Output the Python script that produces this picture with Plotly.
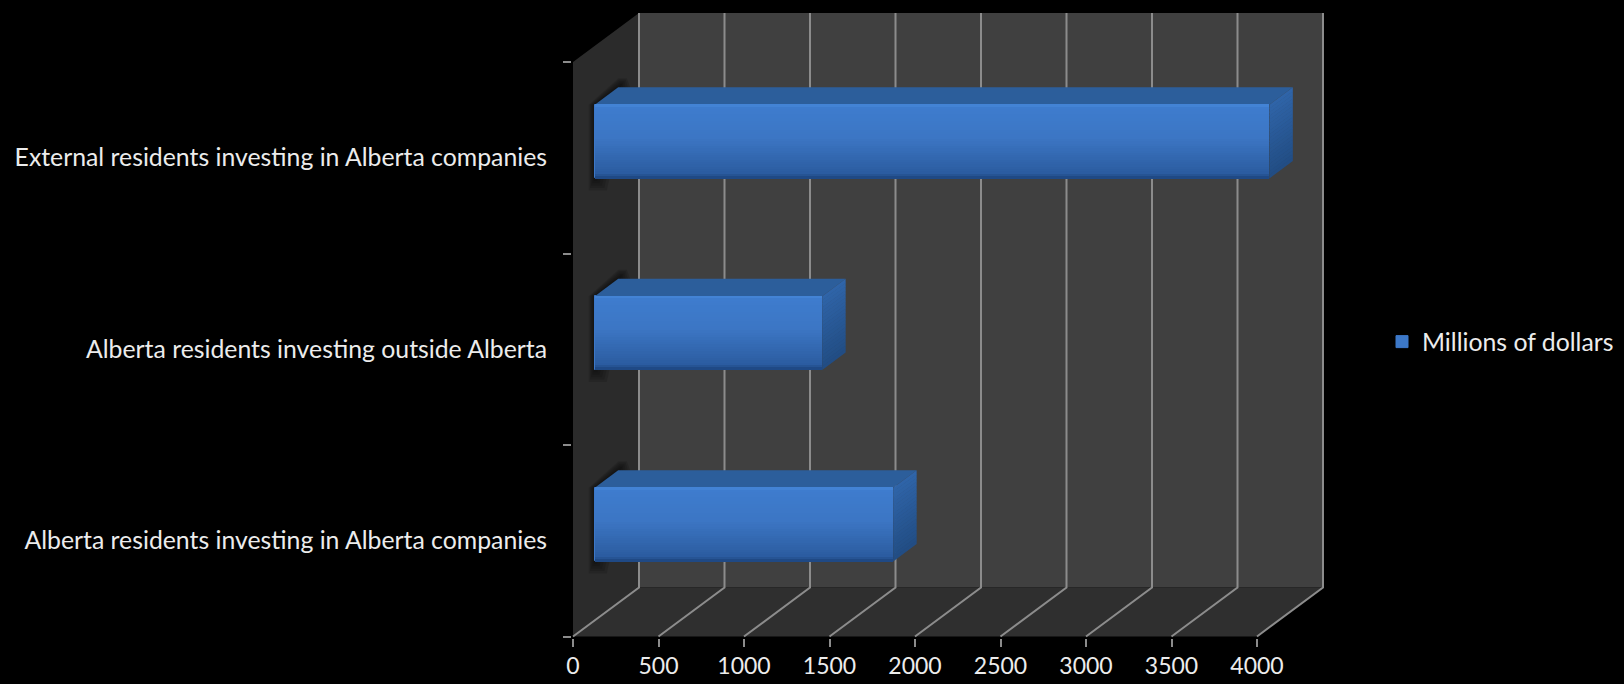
import plotly.graph_objects as go

categories = ["Alberta residents investing in Alberta companies",
              "Alberta residents investing outside Alberta",
              "External residents investing in Alberta companies"]
values = [1745, 1330, 3945]
series_name = "Millions of dollars"
x_ticks = [0, 500, 1000, 1500, 2000, 2500, 3000, 3500, 4000]
cat_pos = [0.5, 1.5, 2.5]
cat_bounds = [0, 1, 2, 3]

W, H = 1624, 684
X0, X1 = 573, 1257        # front plane, px
Y0, Y1 = 636.5, 62
PX_X = (X1 - X0) / 4000
PX_Y = (Y0 - Y1) / 3
DX, DY = 66, 49           # depth offset, px
D_FRONT, D_BACK = 0.33, 0.685
BAR_H = 0.385
FONT = "Lato"
FS = 24.8
FS_TICK = 23
TXT = "#ececec"
GRID = "#8c8c8c"


def pr(v, p, d=0.0):
    return v + d * DX / PX_X, p + d * DY / PX_Y


def poly(pts, color, z=0):
    xs, ys = zip(*[pr(*q) for q in pts])
    return go.Scatter(x=list(xs) + [xs[0]], y=list(ys) + [ys[0]], mode="lines", fill="toself",
                      fillcolor=color, line=dict(width=0), hoverinfo="skip", showlegend=False, zorder=z)


def mix(a, b, t):
    return "rgb(%d,%d,%d)" % tuple(round(a[i] + (b[i] - a[i]) * t) for i in range(3))


fig = go.Figure()
# walls and floor
fig.add_trace(poly([(0, 0, 1), (4000, 0, 1), (4000, 3, 1), (0, 3, 1)], "#404040"))
fig.add_trace(poly([(0, 0, 0), (0, 3, 0), (0, 3, 1), (0, 0, 1)], "#2b2b2b"))
fig.add_trace(poly([(0, 0, 0), (4000, 0, 0), (4000, 0, 1), (0, 0, 1)], "#2f2f2f"))
# gridlines
for t in x_ticks:
    a = pr(t, 3, 1); b = pr(t, 0, 1); c = pr(t, 0, 0)
    fig.add_trace(go.Scatter(x=[a[0], b[0], c[0]], y=[a[1], b[1], c[1]], mode="lines",
                             line=dict(color=GRID, width=2), hoverinfo="skip", showlegend=False, zorder=0))

# soft shadows
for p in cat_pos:
    for s in (1.0, 0.8, 0.6, 0.4, 0.2):
        sx = 12 * s / PX_X
        sy = 12 * s / PX_Y
        t, b = p + BAR_H / 2, p - BAR_H / 2
        fig.add_trace(poly([(-sx * 0.5, b - sy, D_FRONT), (sx * 1.0, b - sy, D_FRONT),
                            (sx * 1.0, t, D_BACK), (sx * 0.5, t + sy * 0.6, D_BACK + 0.04),
                            (-sx * 0.2, t + sy * 0.6, D_BACK + 0.04), (-sx * 0.5, t, D_FRONT)],
                           "rgba(0,0,0,0.12)"))

# main bars (front face base colour, carries the legend)
off_x = pr(0, 0, D_FRONT)[0]
off_y = pr(0, 0, D_FRONT)[1]
fig.add_trace(go.Bar(y=[p + off_y for p in cat_pos], x=values, base=off_x, width=BAR_H,
                     orientation="h", name=series_name, showlegend=True, zorder=1,
                     marker=dict(color="#3c78c8", line=dict(color="#3c78c8", width=1)),
                     hoverinfo="skip"))

# top and side faces
N = 20
for p, v in zip(cat_pos, values):
    t, b = p + BAR_H / 2, p - BAR_H / 2
    fig.add_trace(poly([(0, t, D_FRONT), (v, t, D_FRONT), (v, t, D_BACK), (0, t, D_BACK)], "#2c5e9b", 1))
    for i in range(N):
        u0, u1 = i / N, (i + 1.15) / N
        y0, y1 = t - (t - b) * u0, max(b, t - (t - b) * u1)
        fig.add_trace(poly([(v, y0, D_FRONT), (v, y0, D_BACK), (v, y1, D_BACK), (v, y1, D_FRONT)],
                           mix((47, 100, 168), (33, 76, 130), u0), 1))

# gradient bands on the front face
stops = [(0.0, (72, 138, 220)), (0.03, (62, 124, 206)), (0.45, (60, 118, 196)),
         (0.93, (43, 92, 160)), (1.0, (28, 68, 125))]


def grad(u):
    for (a, ca), (b, cb) in zip(stops, stops[1:]):
        if u <= b:
            return mix(ca, cb, (u - a) / (b - a))
    return mix(stops[-1][1], stops[-1][1], 0)


M = 32
bh = BAR_H / M
for i in range(M):
    u = (i + 0.5) / M
    fig.add_trace(go.Bar(y=[p + off_y + BAR_H / 2 - u * BAR_H for p in cat_pos], x=values, base=off_x,
                         width=bh * 1.25, orientation="h", showlegend=False, zorder=2,
                         marker=dict(color=grad(u), line=dict(width=0)), hoverinfo="skip"))

# anchor trace for the front-plane axes
fig.add_trace(go.Scatter(x=[0, 4000], y=[0, 3], xaxis="x2", yaxis="y2", mode="markers",
                         marker=dict(opacity=0), hoverinfo="skip", showlegend=False))

fig.update_layout(
    width=W, height=H, autosize=False,
    margin=dict(l=0, r=0, t=0, b=0, autoexpand=False),
    paper_bgcolor="#000000", plot_bgcolor="rgba(0,0,0,0)",
    barmode="overlay", bargap=0,
    showlegend=True,
    font=dict(family=FONT, size=FS, color=TXT),
    legend=dict(x=1382 / W, y=1 - 342 / H, xanchor="left", yanchor="middle",
                bgcolor="rgba(0,0,0,0)", font=dict(family=FONT, size=FS, color=TXT),
                itemwidth=30, tracegroupgap=0),
    xaxis=dict(domain=[0, 1], range=[-X0 / PX_X, (W - X0) / PX_X], visible=False, fixedrange=True),
    yaxis=dict(domain=[0, 1], range=[-(H - Y0) / PX_Y, (Y0) / PX_Y], visible=False, fixedrange=True),
    xaxis2=dict(domain=[X0 / W, X1 / W], range=[0, 4000], anchor="y2", side="bottom",
                tickmode="array", tickvals=x_ticks, ticktext=[str(t) for t in x_ticks],
                ticks="outside", ticklen=8, tickwidth=2, tickcolor=GRID,
                showline=True, linecolor=GRID, linewidth=2, showgrid=False, zeroline=False,
                tickfont=dict(family=FONT, size=FS_TICK, color=TXT), ticklabelstandoff=0, fixedrange=True),
    yaxis2=dict(domain=[(H - Y0) / H, (H - Y1) / H], range=[0, 3], anchor="x2", side="left",
                tickmode="array", tickvals=cat_pos, ticktext=categories, ticks="",
                minor=dict(tickmode="array", tickvals=cat_bounds, ticks="outside", ticklen=8,
                           tickwidth=2, tickcolor=GRID, showgrid=False),
                showline=True, linecolor=GRID, linewidth=2, showgrid=False, zeroline=False,
                tickfont=dict(family=FONT, size=FS, color=TXT), ticklabelstandoff=19, fixedrange=True),
)

fig.write_html("out.html", config=dict(displayModeBar=False),
               post_script="document.body.style.margin='0';document.body.style.overflow='hidden';")
